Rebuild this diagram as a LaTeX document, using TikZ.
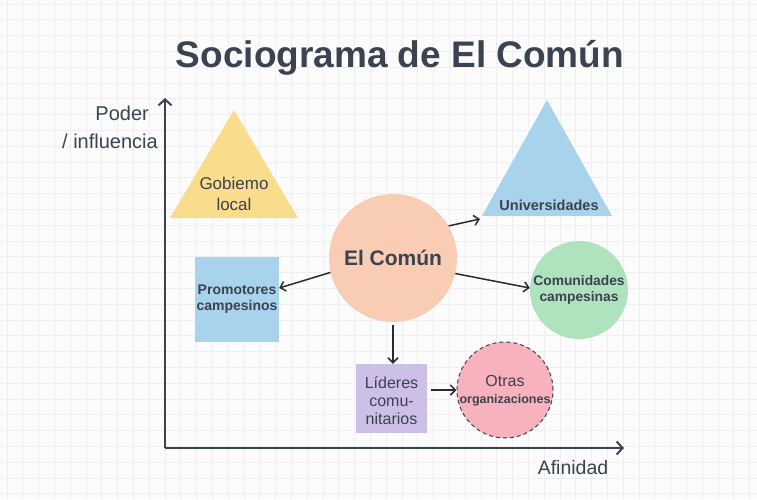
\documentclass[tikz,border=0pt]{standalone}
\usepackage{fontspec}
\setmainfont{Liberation Sans}
\usetikzlibrary{arrows.meta}
\definecolor{bgc}{HTML}{FCFCFC}
\definecolor{gridc}{HTML}{EFEFF1}
\definecolor{txt}{HTML}{3B4250}
\definecolor{axisc}{HTML}{3B4250}
\definecolor{arrc}{HTML}{2B2B2B}
\definecolor{yel}{HTML}{F9DC8C}
\definecolor{blu}{HTML}{A9D2EC}
\definecolor{pea}{HTML}{F8CDB4}
\definecolor{grn}{HTML}{AEE3BD}
\definecolor{lav}{HTML}{CDBFE8}
\definecolor{pnk}{HTML}{F8B2BE}
\tikzset{
  fs/.style={font=\fontsize{#1}{#1}\selectfont},
  fsb/.style={font=\fontsize{#1}{#1}\selectfont\bfseries},
  lbl/.style={text=txt, align=center, inner sep=0pt},
  conn/.style={draw=arrc, line width=1.5pt, -{Straight Barb[length=5pt,width=10pt,line width=1.5pt]}},
  axisln/.style={draw=axisc, line width=2pt, -{Straight Barb[length=6pt,width=13pt,line width=2pt]}},
}
\begin{document}
\begin{tikzpicture}[x=1pt,y=-1pt]
\useasboundingbox (0,0) rectangle (757,499);
\fill[bgc] (0,0) rectangle (757,499);
\foreach \i in {0,...,47} {\draw[gridc, line width=0.8pt] (7+15.8*\i,0) -- (7+15.8*\i,499);}
\foreach \j in {0,...,31} {\draw[gridc, line width=0.8pt] (0,4+15.8*\j) -- (757,4+15.8*\j);}
% title
\node[lbl, fsb=37] (title) at (400,58) {Sociograma de El Común};
% axes
\coordinate (origin) at (165,448);
\coordinate (ytop) at (165,98);
\coordinate (xend) at (624,448);
\draw[axisln] (origin) -- (ytop);
\draw[axisln] (origin) -- (xend);
\node[lbl, fs=20, anchor=east] (poder) at (149,113) {Poder};
\node[lbl, fs=20, anchor=east] (infl) at (158,141) {/ influencia};
\node[lbl, fs=19.5] (afin) at (573,468) {Afinidad};
% shapes
\fill[yel] (234,110) -- (298,218) -- (170,218) -- cycle;
\node[lbl, fs=17] (gob) at (234,194) {Gobiemo\\[4pt]local};
\fill[blu] (547,100) -- (612,216) -- (482,216) -- cycle;
\node[lbl, fsb=14.5] (uni) at (549,205) {Universidades};
\node[circle, fill=pea, minimum size=128pt, inner sep=0pt] (comun) at (393,258) {};
\node[lbl, fsb=21] at (comun) {El Común};
\node[fill=blu, minimum width=84pt, minimum height=85pt, inner sep=0pt] (prom) at (237,299.5) {};
\node[lbl, fsb=14] at (237,299) {Promotores\\[2pt]campesinos};
\node[circle, fill=grn, minimum size=98pt, inner sep=0pt] (comu) at (579,290) {};
\node[lbl, fsb=13.8] at (comu) {Comunidades\\[2pt]campesinas};
\node[fill=lav, minimum width=71pt, minimum height=69pt, inner sep=0pt] (lid) at (391.5,398.5) {};
\node[lbl, fs=16] at (391.5,401) {Líderes\\[2pt]comu-\\[2pt]nitarios};
\node[circle, fill=pnk, draw=txt, dashed, dash pattern=on 4pt off 3pt, line width=1pt, minimum size=96pt, inner sep=0pt] (otras) at (505,390) {};
\node[lbl, fs=16] at (505,381) {Otras};
\node[lbl, fsb=12.5] at (505,400) {organizaciones};
% connectors
\draw[conn] (comun.193) -- (prom.east |- 0,288);
\draw[conn] (comun.30) -- (480,219);
\draw[conn] (comun.-14) -- (comu.west |- 0,288);
\draw[conn] ([yshift=-3pt]comun.south) -- (comun.south |- lid.north);
\draw[conn] (lid.east |- 0,390) ++(4,0) -- (otras.west |- 0,390);
\end{tikzpicture}
\end{document}
